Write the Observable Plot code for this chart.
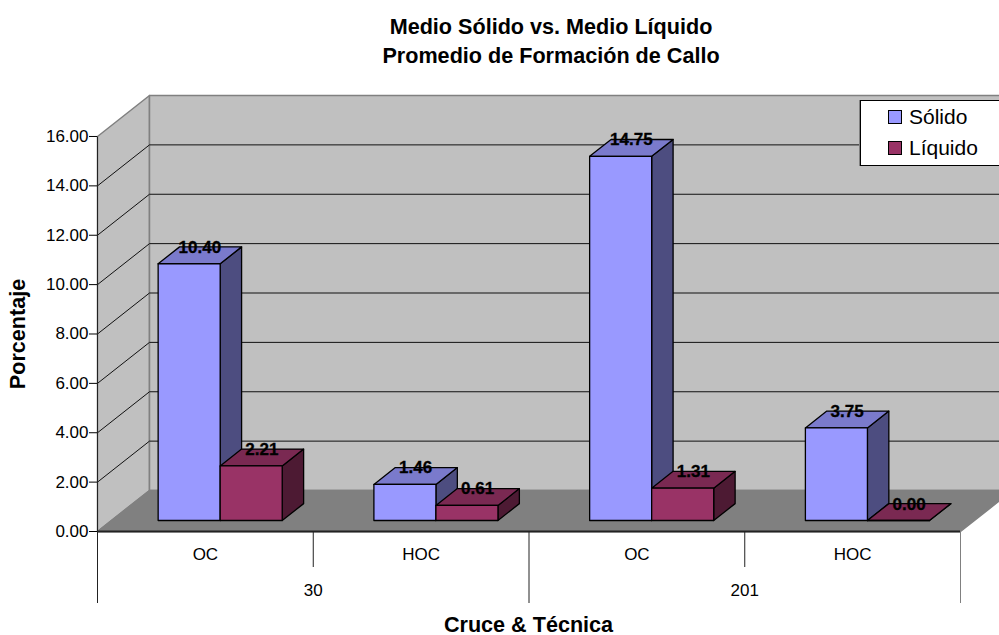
<!DOCTYPE html>
<html>
<head>
<meta charset="utf-8">
<script src="https://cdn.jsdelivr.net/npm/d3@7"></script>
<script src="https://cdn.jsdelivr.net/npm/@observablehq/plot@0.6"></script>
<style>
  html, body { margin: 0; padding: 0; background: #fff; overflow: hidden; }
  #chart { position: relative; width: 999px; height: 635px; font-family: "Liberation Sans", Arial, sans-serif; }
  #legend { position: absolute; left: 860px; top: 100px; width: 145px; height: 66px; box-sizing: border-box;
            background: #fff; border: 1px solid #000; box-shadow: -1px 0 0 #808080; color: #000; font-size: 21px; }
  #legend .row { position: absolute; left: 27px; display: flex; align-items: center; gap: 7px; height: 24px; white-space: nowrap; }
  #legend .swatch { width: 12px; height: 12px; border: 1px solid #000; }
</style>
</head>
<body>
<div id="chart"></div>
<script>
// Chart values
const cruces = ["30", "201"];
const tecnicas = ["OC", "HOC", "OC", "HOC"];
const solido = [10.40, 1.46, 14.75, 3.75];
const liquido = [2.21, 0.61, 1.31, 0.00];
const yTicks = [0, 2, 4, 6, 8, 10, 12, 14, 16];
const series = [
  {name: "Sólido", values: solido, front: "#9999ff", top: "#7a7acc", side: "#4d4d80"},
  {name: "Líquido", values: liquido, front: "#993366", top: "#7a2952", side: "#4d1a33"}
];

// Oblique projection: depth w in 0..1 shifts a point along both data axes
const depthX = 0.241, depthY = 1.66;
const project = (u, v, w) => ({x: u + w * depthX, y: v + w * depthY});

// Bar layout within each category slot, in category units
const barStart = 0.2165, barWidth = 0.2875, depthNear = 0.268, depthFar = 0.68;

const faces = [];
const labels = [];
tecnicas.forEach((_, i) => {
  series.forEach((s, j) => {
    const v = s.values[i];
    const a = i + barStart + j * barWidth, b = a + barWidth;
    const add = (kind, color, pts) => pts.forEach(p => faces.push({...p, id: `${i}-${j}-${kind}`, color}));
    add("side", s.side, [project(b, 0, depthNear), project(b, 0, depthFar), project(b, v, depthFar), project(b, v, depthNear)]);
    add("top", s.top, [project(a, v, depthNear), project(b, v, depthNear), project(b, v, depthFar), project(a, v, depthFar)]);
    add("front", s.front, [project(a, 0, depthNear), project(b, 0, depthNear), project(b, v, depthNear), project(a, v, depthNear)]);
    labels.push({...project((a + b) / 2, v, (depthNear + depthFar) / 2), text: v.toFixed(2)});
  });
});

const n = tecnicas.length;
const panel = pts => pts.map(([u, v, w]) => project(u, v, w));
const walls = [
  panel([[0, 0, 0], [0, 0, 1], [0, 16, 1], [0, 16, 0]]),
  panel([[0, 0, 1], [n, 0, 1], [n, 16, 1], [0, 16, 1]])
];
const floor = panel([[0, 0, 0], [n, 0, 0], [n, 0, 1], [0, 0, 1]]);
const grid = yTicks.slice(1, -1);
const fontSize = 17;
const titleSize = 21.6;

const plot = Plot.plot({
  width: 999,
  height: 635,
  marginLeft: 97,
  marginRight: 0,
  marginTop: 95,
  marginBottom: 104,
  style: {background: "transparent", fontFamily: "'Liberation Sans', Arial, sans-serif", fontSize: fontSize + "px", color: "#000"},
  x: {domain: [0, 902 / 215.75], axis: null},
  y: {domain: [0, 16 + depthY], axis: null},
  color: {type: "identity"},
  marks: [
    // Walls and floor
    Plot.line(walls[0], {x: "x", y: "y", curve: "linear-closed", fill: "#c0c0c0", stroke: "#808080", strokeWidth: 1.5}),
    Plot.line(walls[1], {x: "x", y: "y", curve: "linear-closed", fill: "#c0c0c0", stroke: "#808080", strokeWidth: 1.5}),
    Plot.line(floor, {x: "x", y: "y", curve: "linear-closed", fill: "#808080", stroke: "#808080"}),
    Plot.link(grid, {x1: () => 0, y1: d => d, x2: () => depthX, y2: d => d + depthY, stroke: "#111", strokeWidth: 1}),
    Plot.link(grid, {x1: () => depthX, y1: d => d + depthY, x2: () => n + depthX, y2: d => d + depthY, stroke: "#111", strokeWidth: 1}),

    // Value axis
    Plot.axisY({ticks: yTicks, tickSize: 8, tickPadding: 1, tickFormat: d3.format(".2f"), label: null, fontSize, stroke: "#000"}),
    Plot.link([0], {x1: () => 0, y1: () => 0, x2: () => 0, y2: () => 16, stroke: "#222"}),

    // Floor front edge and the two-level category axis
    Plot.ruleY([0], {x1: 0, x2: n, stroke: "#222", strokeWidth: 2}),
    Plot.axisX({ticks: [1, 3], tickSize: 36, tickFormat: () => "", label: null, stroke: "#222"}),
    Plot.axisX({ticks: [0, 2], tickSize: 72, tickFormat: () => "", label: null, stroke: "#222"}),
    Plot.axisX({ticks: [n], tickSize: 72, tickFormat: () => "", label: null, stroke: "#808080"}),
    Plot.axisX({ticks: tecnicas.map((_, i) => i + 0.5), tickSize: 0, tickPadding: 16, tickFormat: d => tecnicas[Math.floor(d)], label: null, fontSize}),
    Plot.axisX({ticks: cruces.map((_, i) => 2 * i + 1), tickSize: 0, tickPadding: 52, tickFormat: d => cruces[(d - 1) / 2], label: null, fontSize}),

    // Bars, painted back to front
    Plot.line(faces, {x: "x", y: "y", z: "id", curve: "linear-closed", fill: "color", stroke: "#000", strokeWidth: 1.3}),
    Plot.text(labels, {x: "x", y: "y", text: "text", dy: -8, fontWeight: "bold", fontSize: 17, fill: "#000", stroke: "#000", strokeWidth: 0.3}),

    // Titles
    Plot.text(["Medio Sólido vs. Medio Líquido\nPromedio de Formación de Callo"], {frameAnchor: "top", dx: 2.5, dy: -81, fontWeight: "bold", fontSize: titleSize, lineHeight: 1.3, lineAnchor: "top", fill: "#000"}),
    Plot.text(["Porcentaje"], {frameAnchor: "left", textAnchor: "middle", rotate: -90, dx: -79, dy: 20.5, fontWeight: "bold", fontSize: titleSize, fill: "#000"}),
    Plot.text(["Cruce & Técnica"], {frameAnchor: "bottom", dx: -20, dy: 100, fontWeight: "bold", fontSize: titleSize, fill: "#000"})
  ]
});

const chart = document.getElementById("chart");
chart.appendChild(plot);

// Series legend
const legend = document.createElement("div");
legend.id = "legend";
series.forEach((s, i) => {
  const row = document.createElement("div");
  row.className = "row";
  row.style.top = (4 + i * 31) + "px";
  const swatch = document.createElement("span");
  swatch.className = "swatch";
  swatch.style.background = s.front;
  const label = document.createElement("span");
  label.textContent = s.name;
  row.append(swatch, label);
  legend.appendChild(row);
});
chart.appendChild(legend);
</script>
</body>
</html>
